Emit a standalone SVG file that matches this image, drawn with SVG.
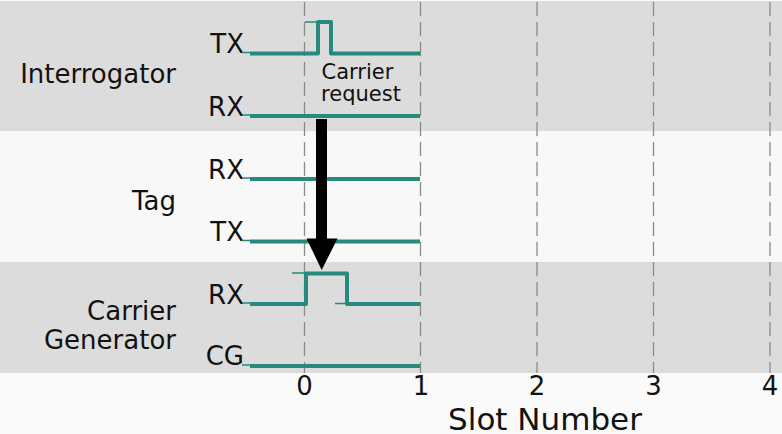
<svg xmlns="http://www.w3.org/2000/svg" width="782" height="434" viewBox="0 0 782 434">
<style>
.lbl{font-family:"DejaVu Sans",sans-serif;font-size:26px;fill:#111}
.ann{font-family:"DejaVu Sans",sans-serif;font-size:21px;fill:#111}
.ax{font-family:"DejaVu Sans",sans-serif;font-size:26px;fill:#111}
.sig{fill:none;stroke:#268a7e;stroke-width:4;stroke-linejoin:round}
.thin{fill:none;stroke:#268a7e;stroke-width:1.5}
.grid{stroke:#8a8a8a;stroke-width:1.3;stroke-dasharray:14 6}
</style>
<rect x="0" y="0" width="782" height="434" fill="#fafafa"/>
<g id="bands">
<rect x="0" y="1" width="782" height="130" fill="#dcdcdc"/>
<rect x="0" y="131" width="782" height="131" fill="#f8f8f8"/>
<rect x="0" y="262" width="782" height="111" fill="#dcdcdc"/>
</g>
<g id="grid">
<line class="grid" x1="304.5" y1="2" x2="304.5" y2="373"/>
<line class="grid" x1="420.5" y1="2" x2="420.5" y2="373"/>
<line class="grid" x1="537" y1="2" x2="537" y2="373"/>
<line class="grid" x1="653.5" y1="2" x2="653.5" y2="373"/>
<line class="grid" x1="770" y1="2" x2="770" y2="373"/>
</g>
<g id="interrogator">
<text class="lbl" x="176" y="83" text-anchor="end">Interrogator</text>
<text class="lbl" x="244" y="53" text-anchor="end">TX</text>
<text class="lbl" x="244" y="116" text-anchor="end">RX</text>
<line class="thin" x1="242" y1="52.5" x2="250" y2="52.5"/>
<polyline class="sig" points="250,53.5 318,53.5 318,22 331,22 331,53.5 420,53.5"/>
<line class="thin" x1="305" y1="22" x2="318" y2="22"/>
<line class="thin" x1="242" y1="115" x2="250" y2="115"/>
<line class="sig" x1="250" y1="116" x2="420" y2="116"/>
</g>
<g id="tag">
<text class="lbl" x="176" y="210" text-anchor="end">Tag</text>
<text class="lbl" x="244" y="179" text-anchor="end">RX</text>
<text class="lbl" x="244" y="241" text-anchor="end">TX</text>
<line class="thin" x1="242" y1="178" x2="250" y2="178"/>
<line class="sig" x1="250" y1="179" x2="420" y2="179"/>
<line class="thin" x1="242" y1="240.5" x2="250" y2="240.5"/>
<line class="sig" x1="250" y1="241.5" x2="420" y2="241.5"/>
</g>
<g id="carrier-generator">
<text class="lbl" x="176" y="320" text-anchor="end">Carrier</text>
<text class="lbl" x="176" y="349" text-anchor="end">Generator</text>
<text class="lbl" x="244" y="304" text-anchor="end">RX</text>
<text class="lbl" x="244" y="365" text-anchor="end">CG</text>
<line class="thin" x1="242" y1="303" x2="250" y2="303"/>
<polyline class="sig" points="250,304 306,304 306,273.5 347,273.5 347,304 420,304"/>
<line class="thin" x1="292" y1="273" x2="306" y2="273"/>
<line class="thin" x1="335" y1="303.5" x2="347" y2="303.5"/>
<line class="thin" x1="242" y1="365" x2="250" y2="365"/>
<line class="sig" x1="250" y1="366" x2="420" y2="366"/>
</g>
<g id="annotation">
<text class="ann" x="357.5" y="79" text-anchor="middle">Carrier</text>
<text class="ann" x="361" y="101" text-anchor="middle">request</text>
</g>
<g id="connectors">
<rect x="316" y="119" width="11" height="121" fill="#000"/>
<polygon points="306.5,238.5 337.5,238.5 321.7,270" fill="#000"/>
</g>
<g id="axis">
<text class="ax" x="304.5" y="395" text-anchor="middle">0</text>
<text class="ax" x="421" y="395" text-anchor="middle">1</text>
<text class="ax" x="537" y="395" text-anchor="middle">2</text>
<text class="ax" x="653.5" y="395" text-anchor="middle">3</text>
<text class="ax" x="770" y="395" text-anchor="middle">4</text>
<text class="ax" x="545" y="430" text-anchor="middle" style="font-size:31px">Slot Number</text>
</g>
</svg>
